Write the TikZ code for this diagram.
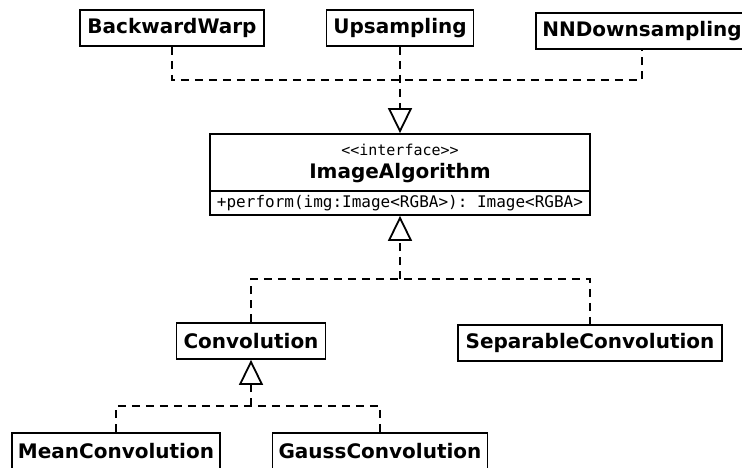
\documentclass[tikz,border=0pt]{standalone}
\usepackage{fontspec}
\setmainfont{DejaVu Sans}
\setmonofont{DejaVu Sans Mono}
\usetikzlibrary{arrows.meta}

\tikzstyle{classbox}=[
    draw,
    line width=1.8pt,
    minimum height=36pt,
    inner sep=0pt,
    font=\fontsize{20}{24}\selectfont\bfseries,
  ]
\tikzstyle{link}=[
    line width=1.8pt,
    dash pattern=on 8pt off 6pt,
  ]
\tikzstyle{realize}=[
    link,
    -{Triangle[open, length=25pt, width=24pt, line width=1.8pt]},
  ]

\begin{document}
\begin{tikzpicture}[x=1pt, y=-1pt]
      \useasboundingbox (0,0) rectangle (742,468);
      % implementations of the interface
      \node[classbox, minimum width=184pt] (bw) at (172, 28) {BackwardWarp};
      \node[classbox, minimum width=147pt] (up) at (400, 28) {Upsampling};
      \node[classbox, minimum width=212pt] (nn) at (642, 31) {NNDownsampling};
      % the interface
      \node[draw, line width=1.8pt, minimum width=380pt, minimum height=81pt] (ia) at (400, 174.5) {};
      \node[font=\fontsize{15}{17}\ttfamily] (iastereo) at (400, 150) {<{}<interface>{}>};
      \node[font=\fontsize{20}{24}\selectfont\bfseries] (ianame) at (400, 173) {ImageAlgorithm};
      \node[font=\fontsize{16}{18}\ttfamily] (iaop) at (400, 203) {+perform(img:Image<RGBA>): Image<RGBA>};
      \draw[line width=1.8pt] (ia.west |- 0,191) -- (ia.east |- 0,191);
      % convolutions
      \node[classbox, minimum width=149pt] (conv) at (251, 341) {Convolution};
      \node[classbox, minimum width=264pt] (sep) at (590, 343) {SeparableConvolution};
      \node[classbox, minimum width=208pt] (mean) at (116, 451) {MeanConvolution};
      \node[classbox, minimum width=215pt] (gauss) at (380, 451) {GaussConvolution};
      \coordinate (jtop) at (400, 80);
      \coordinate (jmid) at (400, 279);
      \coordinate (jbot) at (251, 406);
      \draw[realize] (up) -- (ia);
      \draw[link] (bw.south) |- (jtop) -| (nn.south);
      \draw[realize] (jmid) -- (ia);
      \draw[link] (conv.north) |- (jmid) -| (sep.north);
      \draw[realize] (jbot) -- (conv);
      \draw[link] (mean.north) |- (jbot) -| (gauss.north);
    \end{tikzpicture}
\end{document}
